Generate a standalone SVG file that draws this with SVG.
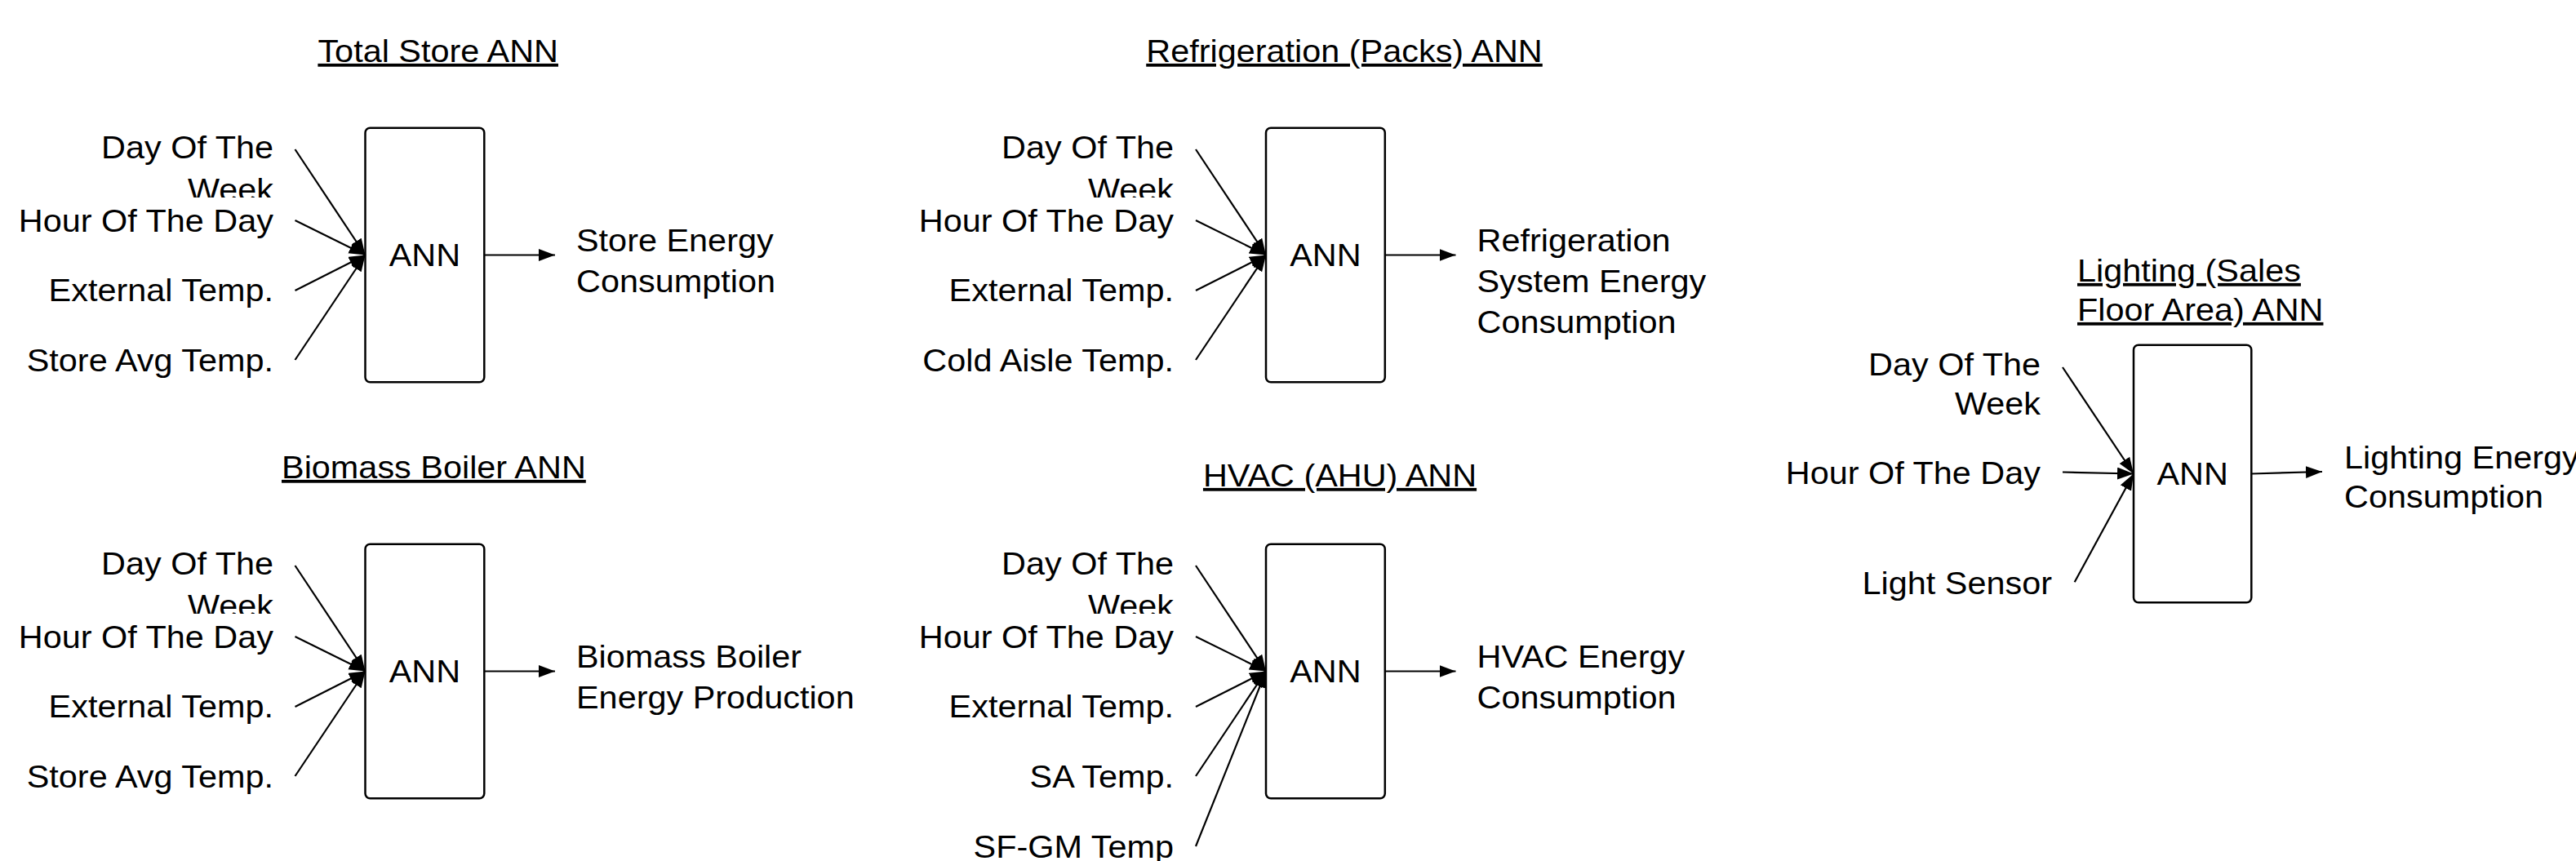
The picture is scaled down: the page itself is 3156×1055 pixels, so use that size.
<svg xmlns="http://www.w3.org/2000/svg" width="3156" height="1055" viewBox="0 0 3156 1055">
<style>
.box{fill:#fff;stroke:#000;stroke-width:2.5}
.conn{stroke:#000;stroke-width:2.2;fill:none;marker-end:url(#ah)}
.t{font-family:"Liberation Sans",Arial,sans-serif;font-size:38px;fill:#000}
.e{text-anchor:end}
.m{text-anchor:middle}
.u{text-decoration:underline}
</style>
<defs>
<marker id="ah" markerUnits="userSpaceOnUse" markerWidth="22" markerHeight="16" refX="20" refY="7.5" orient="auto"><path d="M0,0 L20,7.5 L0,15 z" fill="#000"/></marker>
<clipPath id="c1" clipPathUnits="userSpaceOnUse"><rect x="-2000" y="0" width="4000" height="242"/></clipPath>
<clipPath id="c2" clipPathUnits="userSpaceOnUse"><rect x="-2000" y="500" width="4000" height="252"/></clipPath>
</defs>
<rect width="3156" height="1055" fill="#fff"/>

<g id="total-store">
<text class="t m u" transform="translate(536.7 0) scale(1.09 1)" x="0" y="76">Total Store ANN</text>
<g id="ts-inputs">
<text class="t e" transform="translate(335 0) scale(1.09 1)" clip-path="url(#c1)"><tspan x="0" y="194">Day Of The</tspan><tspan x="0" y="246">Week</tspan></text>
<text class="t e" transform="translate(335 0) scale(1.09 1)" x="0" y="284">Hour Of The Day</text>
<text class="t e" transform="translate(335 0) scale(1.09 1)" x="0" y="369">External Temp.</text>
<text class="t e" transform="translate(335 0) scale(1.09 1)" x="0" y="455">Store Avg Temp.</text>
</g>
<g id="ts-ann"><rect class="box" x="447.5" y="156.7" width="145.8" height="311.6" rx="6"/>
<text class="t m" transform="translate(520.4 0) scale(1.09 1)" x="0" y="326">ANN</text></g>
<text class="t" transform="translate(706 0) scale(1.09 1)"><tspan x="0" y="308">Store Energy</tspan><tspan x="0" y="358">Consumption</tspan></text>
</g>

<g id="refrigeration">
<text class="t m u" transform="translate(1647 0) scale(1.09 1)" x="0" y="76">Refrigeration (Packs) ANN</text>
<g id="rf-inputs">
<text class="t e" transform="translate(1438 0) scale(1.09 1)" clip-path="url(#c1)"><tspan x="0" y="194">Day Of The</tspan><tspan x="0" y="246">Week</tspan></text>
<text class="t e" transform="translate(1438 0) scale(1.09 1)" x="0" y="284">Hour Of The Day</text>
<text class="t e" transform="translate(1438 0) scale(1.09 1)" x="0" y="369">External Temp.</text>
<text class="t e" transform="translate(1438 0) scale(1.09 1)" x="0" y="455">Cold Aisle Temp.</text>
</g>
<g id="rf-ann"><rect class="box" x="1551" y="156.7" width="145.8" height="311.6" rx="6"/>
<text class="t m" transform="translate(1623.9 0) scale(1.09 1)" x="0" y="326">ANN</text></g>
<text class="t" transform="translate(1809.5 0) scale(1.09 1)"><tspan x="0" y="308">Refrigeration</tspan><tspan x="0" y="358">System Energy</tspan><tspan x="0" y="408">Consumption</tspan></text>
</g>

<g id="biomass">
<text class="t m u" transform="translate(531.4 0) scale(1.09 1)" x="0" y="586">Biomass Boiler ANN</text>
<g id="bb-inputs">
<text class="t e" transform="translate(335 0) scale(1.09 1)" clip-path="url(#c2)"><tspan x="0" y="704">Day Of The</tspan><tspan x="0" y="756">Week</tspan></text>
<text class="t e" transform="translate(335 0) scale(1.09 1)" x="0" y="794">Hour Of The Day</text>
<text class="t e" transform="translate(335 0) scale(1.09 1)" x="0" y="879">External Temp.</text>
<text class="t e" transform="translate(335 0) scale(1.09 1)" x="0" y="965">Store Avg Temp.</text>
</g>
<g id="bb-ann"><rect class="box" x="447.5" y="666.7" width="145.8" height="311.6" rx="6"/>
<text class="t m" transform="translate(520.4 0) scale(1.09 1)" x="0" y="836">ANN</text></g>
<text class="t" transform="translate(706 0) scale(1.09 1)"><tspan x="0" y="818">Biomass Boiler</tspan><tspan x="0" y="868">Energy Production</tspan></text>
</g>

<g id="hvac">
<text class="t m u" transform="translate(1641.5 0) scale(1.09 1)" x="0" y="596">HVAC (AHU) ANN</text>
<g id="hv-inputs">
<text class="t e" transform="translate(1438 0) scale(1.09 1)" clip-path="url(#c2)"><tspan x="0" y="704">Day Of The</tspan><tspan x="0" y="756">Week</tspan></text>
<text class="t e" transform="translate(1438 0) scale(1.09 1)" x="0" y="794">Hour Of The Day</text>
<text class="t e" transform="translate(1438 0) scale(1.09 1)" x="0" y="879">External Temp.</text>
<text class="t e" transform="translate(1438 0) scale(1.09 1)" x="0" y="965">SA Temp.</text>
<text class="t e" transform="translate(1438 0) scale(1.09 1)" x="0" y="1051">SF-GM Temp</text>
</g>
<g id="hv-ann"><rect class="box" x="1551" y="666.7" width="145.8" height="311.6" rx="6"/>
<text class="t m" transform="translate(1623.9 0) scale(1.09 1)" x="0" y="836">ANN</text></g>
<text class="t" transform="translate(1809.5 0) scale(1.09 1)"><tspan x="0" y="818">HVAC Energy</tspan><tspan x="0" y="868">Consumption</tspan></text>
</g>

<g id="lighting">
<text class="t u" transform="translate(2545 0) scale(1.09 1)"><tspan x="0" y="345">Lighting (Sales</tspan><tspan x="0" y="393">Floor Area) ANN</tspan></text>
<g id="lt-inputs">
<text class="t e" transform="translate(2500 0) scale(1.09 1)"><tspan x="0" y="460">Day Of The</tspan><tspan x="0" y="508">Week</tspan></text>
<text class="t e" transform="translate(2500 0) scale(1.09 1)" x="0" y="593">Hour Of The Day</text>
<text class="t e" transform="translate(2514 0) scale(1.09 1)" x="0" y="728">Light Sensor</text>
</g>
<g id="lt-ann"><rect class="box" x="2614" y="422.7" width="144.3" height="315.6" rx="6"/>
<text class="t m" transform="translate(2686.2 0) scale(1.09 1)" x="0" y="594">ANN</text></g>
<text class="t" transform="translate(2872 0) scale(1.09 1)"><tspan x="0" y="574">Lighting Energy</tspan><tspan x="0" y="622">Consumption</tspan></text>
</g>

<g id="connectors">
<line class="conn" x1="361.5" y1="183" x2="447.5" y2="312.5"/>
<line class="conn" x1="361.5" y1="270" x2="447.5" y2="312.5"/>
<line class="conn" x1="361.5" y1="356" x2="447.5" y2="312.5"/>
<line class="conn" x1="361.5" y1="441" x2="447.5" y2="312.5"/>
<line class="conn" x1="593.3" y1="312.5" x2="680" y2="312.5"/>

<line class="conn" x1="1465" y1="183" x2="1551" y2="312.5"/>
<line class="conn" x1="1465" y1="270" x2="1551" y2="312.5"/>
<line class="conn" x1="1465" y1="356" x2="1551" y2="312.5"/>
<line class="conn" x1="1465" y1="441" x2="1551" y2="312.5"/>
<line class="conn" x1="1696.8" y1="312.5" x2="1783.5" y2="312.5"/>

<line class="conn" x1="361.5" y1="693" x2="447.5" y2="822.5"/>
<line class="conn" x1="361.5" y1="780" x2="447.5" y2="822.5"/>
<line class="conn" x1="361.5" y1="866" x2="447.5" y2="822.5"/>
<line class="conn" x1="361.5" y1="951" x2="447.5" y2="822.5"/>
<line class="conn" x1="593.3" y1="822.5" x2="680" y2="822.5"/>

<line class="conn" x1="1465" y1="693" x2="1551" y2="822.5"/>
<line class="conn" x1="1465" y1="780" x2="1551" y2="822.5"/>
<line class="conn" x1="1465" y1="866" x2="1551" y2="822.5"/>
<line class="conn" x1="1465" y1="951" x2="1551" y2="822.5"/>
<line class="conn" x1="1465" y1="1037" x2="1551" y2="822.5"/>
<line class="conn" x1="1696.8" y1="822.5" x2="1783.5" y2="822.5"/>

<line class="conn" x1="2527" y1="450" x2="2614" y2="580.5"/>
<line class="conn" x1="2527" y1="578.5" x2="2614" y2="580.5"/>
<line class="conn" x1="2541.7" y1="713.3" x2="2614" y2="580.5"/>
<line class="conn" x1="2758.3" y1="580.5" x2="2845" y2="578"/>
</g>
</svg>
